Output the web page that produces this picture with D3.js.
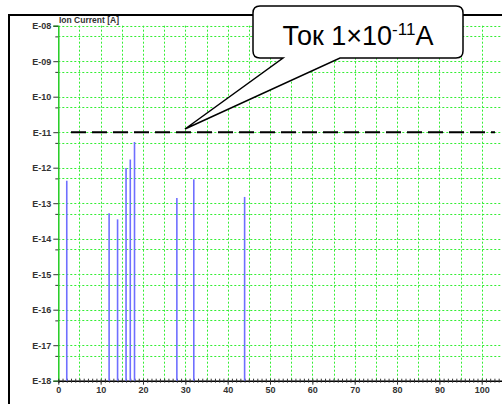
<!DOCTYPE html>
<html>
<head>
<meta charset="utf-8">
<script src="https://cdn.jsdelivr.net/npm/d3@7"></script>
<style>
  body { margin: 0; background: #fff; }
  svg { display: block; }
  .tick-label { font-family: "Liberation Sans", Arial, sans-serif; font-weight: bold; font-size: 9px; fill: #333; }
</style>
</head>
<body>
<div class="chart"></div>
<script>
// mass numbers and ion currents
const masses = [2, 12, 14, 16, 17, 18, 28, 32, 44];
const currents = [4.3e-13, 5.2e-14, 3.5e-14, 9.8e-13, 1.7e-12, 5.3e-12, 1.4e-13, 4.7e-13, 1.5e-13];
const yTicks = [1e-8, 1e-9, 1e-10, 1e-11, 1e-12, 1e-13, 1e-14, 1e-15, 1e-16, 1e-17, 1e-18];
const yTickLabels = ["E-08", "E-09", "E-10", "E-11", "E-12", "E-13", "E-14", "E-15", "E-16", "E-17", "E-18"];
const xTicks = [0, 10, 20, 30, 40, 50, 60, 70, 80, 90, 100];
const threshold = 1e-11;

const width = 502;
const height = 404;

const svg = d3.select(".chart")
  .append("svg")
  .attr("width", width)
  .attr("height", height);

// outer frame
svg.append("path")
  .attr("d", `M9,${height} L9,15 L${width},15`)
  .attr("fill", "none")
  .attr("stroke", "#000")
  .attr("stroke-width", 2);

// scales
const xScale = d3.scaleLinear().domain([0, 105]).range([58.3, 502.9]);
const yScale = d3.scaleLog().domain([1e-18, 1e-8]).range([380.7, 25.7]);

// grid
const grid = svg.append("g");
d3.range(5, 106, 5).forEach(v => {
  grid.append("line")
    .attr("x1", Math.round(xScale(v)) + 0.5).attr("x2", Math.round(xScale(v)) + 0.5)
    .attr("y1", yScale(1e-8)).attr("y2", yScale(1e-18))
    .attr("stroke", "#33ee33").attr("stroke-dasharray", "2,2");
});
const hLines = [];
yTicks.forEach(t => { hLines.push(t); if (t > 1e-18) hLines.push(t / 2); });
hLines.forEach(v => {
  grid.append("line")
    .attr("x1", xScale(0)).attr("x2", width)
    .attr("y1", Math.round(yScale(v)) + 0.5).attr("y2", Math.round(yScale(v)) + 0.5)
    .attr("stroke", "#33ee33").attr("stroke-dasharray", "2,2");
});

// y axis: minor ticks at 5x, labelled ticks at each decade
const yMinor = d3.axisLeft(yScale)
  .tickValues(yTicks.filter(t => t > 1e-18).map(t => t / 2))
  .tickFormat("")
  .tickSize(3);
const ygm = svg.append("g")
  .attr("transform", `translate(${xScale(0)},0)`)
  .call(yMinor);
ygm.select(".domain").remove();
ygm.selectAll(".tick line").attr("stroke", "#333");

const yAxis = d3.axisLeft(yScale)
  .tickValues(yTicks)
  .tickFormat((d, i) => yTickLabels[i])
  .tickSize(5)
  .tickPadding(2);
const yg = svg.append("g")
  .attr("transform", `translate(${xScale(0)},0)`)
  .call(yAxis);
yg.select(".domain").attr("stroke", "#22cc22").attr("stroke-width", 1.5);
yg.selectAll(".tick line").attr("stroke", "#333");
yg.selectAll(".tick text").attr("class", "tick-label");

// x axis with minor ticks crossing the line
const xAxisMinor = d3.axisBottom(xScale)
  .tickValues(d3.range(0, 106, 1))
  .tickFormat("")
  .tickSize(2);
const xgm = svg.append("g")
  .attr("transform", `translate(0,${yScale(1e-18)})`)
  .call(xAxisMinor);
xgm.select(".domain").attr("stroke", "#000").attr("stroke-width", 1.5);
xgm.selectAll(".tick line").attr("stroke", "#333").attr("y1", -2);

const xAxis = d3.axisBottom(xScale)
  .tickValues(xTicks)
  .tickSize(4)
  .tickPadding(2);
const xg = svg.append("g")
  .attr("transform", `translate(0,${yScale(1e-18)})`)
  .call(xAxis);
xg.select(".domain").remove();
xg.selectAll(".tick line").attr("stroke", "#333");
xg.selectAll(".tick text").attr("class", "tick-label");

// axis title
svg.append("text")
  .attr("x", 59)
  .attr("y", 23)
  .attr("font-family", "Liberation Sans, Arial, sans-serif")
  .attr("font-weight", "bold")
  .attr("font-size", 8.5)
  .attr("fill", "#333")
  .text("Ion Current [A]");

// bars
svg.selectAll("line.bar")
  .data(currents)
  .enter()
  .append("line")
  .attr("class", "bar")
  .attr("x1", (d, i) => xScale(masses[i]))
  .attr("x2", (d, i) => xScale(masses[i]))
  .attr("y1", yScale(1e-18))
  .attr("y2", d => yScale(d))
  .attr("stroke", "#6f6fff")
  .attr("stroke-width", 1.6);

// threshold line
svg.append("line")
  .attr("x1", 71)
  .attr("x2", 495)
  .attr("y1", yScale(threshold))
  .attr("y2", yScale(threshold))
  .attr("stroke", "#000")
  .attr("stroke-width", 2)
  .attr("stroke-dasharray", "15,6");

// callout
const bx = 253, by = 6, bw = 210, bh = 52, r = 7;
const tipX = 185, tipY = 129;
const t1 = 283, t2 = 340;
const callout = `M${bx + r},${by} H${bx + bw - r} Q${bx + bw},${by} ${bx + bw},${by + r}
  V${by + bh - r} Q${bx + bw},${by + bh} ${bx + bw - r},${by + bh}
  H${t2} L${tipX},${tipY} L${t1},${by + bh}
  H${bx + r} Q${bx},${by + bh} ${bx},${by + bh - r}
  V${by + r} Q${bx},${by} ${bx + r},${by} Z`;
svg.append("path")
  .attr("d", callout)
  .attr("fill", "#fff")
  .attr("stroke", "#000")
  .attr("stroke-width", 1.5);

const label = svg.append("text")
  .attr("x", bx + bw / 2)
  .attr("y", 45)
  .attr("text-anchor", "middle")
  .attr("font-family", "Liberation Sans, Arial, sans-serif")
  .attr("font-size", 27)
  .attr("fill", "#000");
label.append("tspan").text("Ток 1×10");
label.append("tspan").attr("font-size", 17).attr("dy", -10).text("-11");
label.append("tspan").attr("dy", 10).text("A");
</script>
</body>
</html>
